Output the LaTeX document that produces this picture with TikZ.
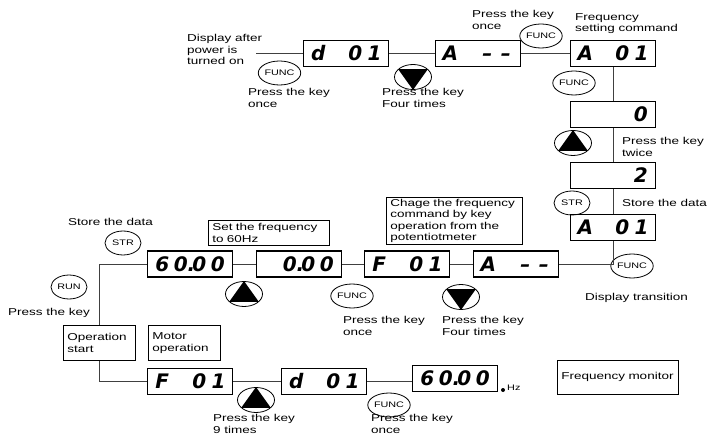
\documentclass[tikz,border=0pt]{standalone}
\usepackage{fontspec}
\setmainfont{Liberation Sans}[FakeStretch=1.35]
\newfontfamily\segfont{DejaVu Sans}
\usepackage{tikz}
\usetikzlibrary{shapes.geometric,positioning}

\newcommand\slot[1]{\makebox[18.5pt]{#1}}
\newcommand\dsp[4]{\slot{#1}\slot{#2}\slot{#3}\slot{#4}}
\newcommand\one{\hfill1\kern1.5pt}

\begin{document}
\begin{tikzpicture}[x=1pt,y=-1pt,
    disp/.style={draw,line width=1.1pt,minimum width=85pt,minimum height=26pt,inner sep=0pt,
        font=\fontsize{20}{20}\segfont\bfseries\itshape},
    key/.style={draw,ellipse,line width=0.8pt,minimum width=36pt,minimum height=24pt,inner sep=0pt,
        font=\fontsize{8}{8}\selectfont},
    tri/.style={draw,ellipse,line width=0.8pt,minimum width=37pt,minimum height=25pt,inner sep=0pt},
    note/.style={draw,line width=0.8pt,anchor=north west,align=left,inner xsep=4pt,inner ysep=1pt,
        font=\fontsize{10}{11.5}\selectfont},
    lbl/.style={anchor=north west,align=left,inner sep=0pt,font=\fontsize{10}{11.5}\selectfont},
    wire/.style={line width=0.8pt,black!75}]
    \useasboundingbox (0,0) rectangle (709,438);

    % top row and right column
    \node[disp] (d1) at (346,53.5) {\dsp{d}{}{0}{\one}};
    \node[disp] (a1) at (478,53.5) {\dsp{A}{}{\textendash}{\textendash}};
    \node[disp] (a2) at (613,53.5) {\dsp{A}{}{0}{\one}};
    \node[disp] (z) at (613,114.5) {\dsp{}{}{}{0}};
    \node[disp] (t) at (613,175.5) {\dsp{}{}{}{2}};
    \node[disp] (a3) at (613,227.5) {\dsp{A}{}{0}{\one}};

    % middle row
    \node[disp] (am) at (516,264) {\dsp{A}{}{\textendash}{\textendash}};
    \node[disp] (fm) at (407,264) {\dsp{F}{}{0}{\one}};
    \node[disp] (zz) at (299,264) {\dsp{}{0\rlap{.}}{0}{0}};
    \node[disp] (sx) at (190,264) {\dsp{6}{0\rlap{.}}{0}{0}};

    % bottom row
    \node[disp] (fb) at (190,381.5) {\dsp{F}{}{0}{\one}};
    \node[disp] (db) at (324,381.5) {\dsp{d}{}{0}{\one}};
    \node[disp] (hz) at (455,378.5) {\dsp{6}{0\rlap{.}}{0}{0}};

    % boxes
    \node[note,text width=113pt,minimum height=25pt] (setf) at (208,220) {Set the frequency\\to 60Hz};
    \node[note,text width=128pt,minimum height=47pt] (chg) at (386,197)
        {Chage the frequency\\command by key\\operation from the\\potentiotmeter};
    \node[note,text width=64pt,minimum height=35pt] (ops) at (63,325) {Operation\\start};
    \node[note,text width=64pt,minimum height=35pt] (mot) at (148,325) {Motor\\operation};
    \node[note,text width=113pt,minimum height=34pt] (fmon) at (557,360) {Frequency monitor};

    % keys
    \node[key] (k1) at (279.5,73) {FUNC};
    \node[key] (k2) at (541,36) {FUNC};
    \node[key] (k3) at (574,83) {FUNC};
    \node[key] (s1) at (572,203) {STR};
    \node[key] (k4) at (632,266) {FUNC};
    \node[key] (s2) at (123,243) {STR};
    \node[key] (r1) at (69,287) {RUN};
    \node[key] (k5) at (352,296) {FUNC};
    \node[key] (k6) at (389,405) {FUNC};
    \node[tri] (v1) at (413,77) {};
    \node[tri] (v2) at (461,297) {};
    \node[tri] (u1) at (573,143) {};
    \node[tri] (u2) at (244,294) {};
    \node[tri] (u3) at (256,400) {};
    \foreach \k in {u1,u2,u3}
        \fill (\k.north) -- (\k.-152) -- (\k.-28) -- cycle;
    \foreach \k in {v1,v2}
        \fill (\k.south) -- (\k.152) -- (\k.28) -- cycle;

    % texts
    \node[lbl] (pw) at (187,34.3) {Display after\\power is\\turned on};
    \node[lbl] (p1) at (248,88.3) {Press the key\\once};
    \node[lbl] (p2) at (382,88.3) {Press the key\\Four times};
    \node[lbl] (p3) at (472,10.3) {Press the key\\once};
    \node[lbl] (fsc) at (575,13.3) {Frequency\\setting command};
    \node[lbl] (p4) at (622,137.3) {Press the key\\twice};
    \node[lbl] (st1) at (622,199.3) {Store the data};
    \node[lbl] (dt) at (585,293.3) {Display transition};
    \node[lbl] (st2) at (68,218.3) {Store the data};
    \node[lbl] (p5) at (8,308.3) {Press the key};
    \node[lbl] (p6) at (343,316.3) {Press the key\\once};
    \node[lbl] (p7) at (442,316.3) {Press the key\\Four times};
    \node[lbl] (p8) at (213,414.3) {Press the key\\9 times};
    \node[lbl] (p9) at (371,414.3) {Press the key\\once};
    \fill (503,390) coordinate (dot) circle (2pt);
    \node[lbl,anchor=west,font=\fontsize{8}{8}\selectfont] (hzl) at (507,388) {Hz};

    % connectors
    \coordinate (pwe) at (256,53.5);
    \draw[wire] (pwe) -- (d1.west);
    \draw[wire] (d1) -- (a1);
    \draw[wire] (a1) -- (a2);
    \draw[wire] (a2) -- (z);
    \draw[wire] (z) -- (t);
    \draw[wire] (t) -- (a3);
    \draw[wire] (a3.south) |- (am.east);
    \draw[wire] (am) -- (fm);
    \draw[wire] (fm) -- (zz);
    \draw[wire] (zz) -- (sx);
    \draw[wire] (sx.west) -| (ops.north);
    \draw[wire] (ops.south) |- (fb.west);
    \draw[wire] (fb) -- (db);
    \draw[wire] (db.east) -- (db.east -| hz.west);
\end{tikzpicture}
\end{document}
